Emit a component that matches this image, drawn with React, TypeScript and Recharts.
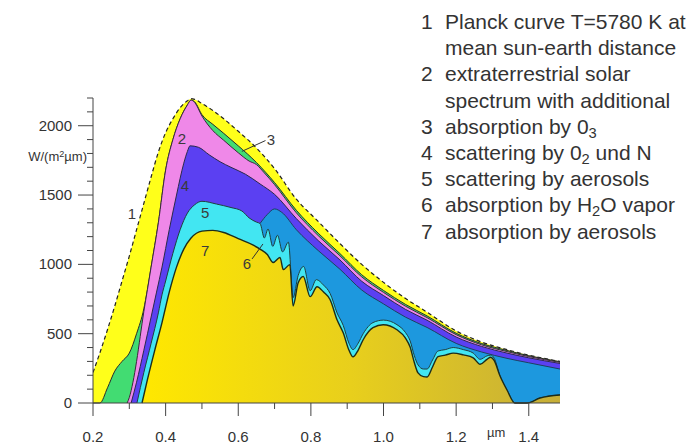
import { ComposedChart, Area, XAxis, YAxis, ReferenceDot, ReferenceLine } from 'recharts';

type Pt = [number, number]; // [wavelength in µm, W/(m²µm)]

// 1: Planck curve, T = 5780 K
const planck: Pt[] = [
  [0.2, 220], [0.22, 370], [0.24, 530], [0.26, 700], [0.28, 880], [0.3, 1060], [0.32, 1250],
  [0.34, 1440], [0.36, 1630], [0.38, 1810], [0.4, 1950], [0.42, 2050], [0.44, 2130], [0.46, 2180],
  [0.47, 2195], [0.48, 2190], [0.5, 2160], [0.53, 2110], [0.56, 2050], [0.6, 1960], [0.65, 1840],
  [0.7, 1690], [0.76, 1470], [0.82, 1310], [0.88, 1150], [0.94, 1000], [1.0, 870], [1.06, 755],
  [1.12, 655], [1.2, 520], [1.27, 440], [1.34, 385], [1.4, 345], [1.486, 300],
];

// top of the O3 band (extraterrestrial spectrum)
const extraterrestrial: Pt[] = [
  [0.2, 0], [0.219, 0], [0.24, 110], [0.26, 230], [0.28, 300], [0.3, 360], [0.32, 500], [0.34, 680],
  [0.35, 820], [0.36, 980], [0.38, 1300], [0.4, 1680], [0.42, 1900], [0.44, 2050], [0.46, 2150],
  [0.47, 2185], [0.48, 2172], [0.5, 2080], [0.53, 2010], [0.56, 1945], [0.6, 1855], [0.65, 1735],
  [0.7, 1590], [0.76, 1390], [0.82, 1225], [0.88, 1078], [0.94, 925], [1.0, 812], [1.06, 712],
  [1.12, 628], [1.2, 503], [1.27, 429], [1.34, 379], [1.4, 341], [1.486, 298],
];

// after ozone absorption
const afterOzone: Pt[] = [
  [0.294, 0], [0.3, 40], [0.31, 150], [0.32, 300], [0.33, 480], [0.34, 660], [0.35, 820], [0.36, 980],
  [0.38, 1300], [0.4, 1680], [0.42, 1900], [0.44, 2050], [0.46, 2150], [0.47, 2185], [0.48, 2168],
  [0.5, 2070], [0.53, 1965], [0.56, 1895], [0.6, 1805], [0.63, 1745], [0.65, 1720], [0.67, 1665],
  [0.7, 1575], [0.76, 1372], [0.82, 1208], [0.88, 1062], [0.94, 910], [1.0, 798], [1.06, 699],
  [1.12, 616], [1.2, 493], [1.27, 420], [1.34, 371], [1.4, 335], [1.486, 293],
];

// after Rayleigh scattering by O2 and N
const afterRayleigh: Pt[] = [
  [0.305, 0], [0.32, 150], [0.34, 380], [0.36, 620], [0.375, 800], [0.39, 980], [0.41, 1250],
  [0.43, 1500], [0.45, 1730], [0.46, 1815], [0.467, 1855], [0.49, 1845], [0.52, 1790], [0.55, 1740],
  [0.58, 1700], [0.62, 1650], [0.66, 1580], [0.7, 1505], [0.76, 1330], [0.82, 1172], [0.88, 1032],
  [0.94, 878], [1.0, 775], [1.06, 676], [1.12, 597], [1.2, 476], [1.27, 408], [1.34, 360],
  [1.4, 326], [1.486, 285],
];

// top of the water vapour band
const waterVapour: Pt[] = [
  [0.66, 1295], [0.68, 1360], [0.7, 1400], [0.72, 1375], [0.76, 1250], [0.82, 1100], [0.88, 965],
  [0.94, 815], [1.0, 715], [1.06, 620], [1.12, 545], [1.2, 430], [1.27, 368], [1.34, 322],
  [1.4, 290], [1.486, 245],
];

// after aerosol scattering
const aerosolScatter: Pt[] = [
  [0.321, 0], [0.34, 220], [0.36, 430], [0.38, 650], [0.39, 780], [0.4, 880], [0.42, 1080],
  [0.44, 1250], [0.46, 1370], [0.48, 1430], [0.5, 1455], [0.54, 1435], [0.58, 1410], [0.61, 1385],
  [0.63, 1335], [0.65, 1305], [0.66, 1295], [0.672, 1190], [0.682, 1255], [0.695, 1130],
  [0.708, 1210], [0.722, 1090], [0.738, 1160], [0.751, 760], [0.765, 920], [0.78, 985], [0.798, 810],
  [0.815, 890], [0.835, 850], [0.853, 790], [0.872, 650], [0.889, 560], [0.905, 430], [0.916, 385],
  [0.93, 430], [0.944, 500], [0.971, 580], [1.0, 598], [1.037, 565], [1.06, 510], [1.073, 450],
  [1.085, 340], [1.095, 275], [1.11, 245], [1.12, 245], [1.135, 310], [1.15, 375], [1.17, 385],
  [1.192, 400], [1.22, 385], [1.247, 360], [1.266, 315], [1.285, 340], [1.295, 345], [1.305, 322],
  [1.32, 200], [1.34, 94], [1.362, 0], [1.395, 0], [1.431, 36], [1.486, 58],
];

// ground level, after aerosol absorption
const ground: Pt[] = [
  [0.335, 0], [0.35, 170], [0.37, 380], [0.39, 580], [0.41, 800], [0.43, 980], [0.45, 1110],
  [0.47, 1190], [0.5, 1240], [0.53, 1245], [0.56, 1230], [0.6, 1185], [0.64, 1140], [0.66, 1110],
  [0.68, 1071], [0.696, 1013], [0.715, 1049], [0.724, 962], [0.742, 998], [0.751, 700], [0.765, 868],
  [0.779, 912], [0.798, 767], [0.817, 839], [0.835, 800], [0.853, 745], [0.872, 600], [0.889, 506],
  [0.905, 380], [0.916, 333], [0.93, 380], [0.944, 456], [0.971, 543], [0.999, 564], [1.037, 528],
  [1.06, 470], [1.073, 405], [1.085, 290], [1.095, 217], [1.11, 190], [1.12, 188], [1.135, 260],
  [1.15, 335], [1.17, 345], [1.192, 360], [1.22, 347], [1.247, 326], [1.266, 280], [1.285, 315],
  [1.295, 330], [1.305, 305], [1.32, 200], [1.34, 94], [1.362, 0], [1.395, 0], [1.431, 36], [1.486, 58],
];

const xTicks = [0.2, 0.3, 0.4, 0.5, 0.6, 0.7, 0.8, 0.9, 1.0, 1.1, 1.2, 1.3, 1.4];
const yTicks = [0, 100, 200, 300, 400, 500, 600, 700, 800, 900, 1000, 1100, 1200, 1300, 1400, 1500,
  1600, 1700, 1800, 1900, 2000, 2100, 2200];

const curveLabels = [
  { n: '1', um: 0.307, w: 1360 },
  { n: '2', um: 0.445, w: 1907 },
  { n: '3', um: 0.69, w: 1900 },
  { n: '4', um: 0.453, w: 1563 },
  { n: '5', um: 0.509, w: 1369 },
  { n: '6', um: 0.624, w: 1004 },
  { n: '7', um: 0.509, w: 1097 },
];

const subStyle = { fontSize: '0.7em', lineHeight: 0, verticalAlign: '-0.3em' };

const legendItems: [string, React.ReactNode][] = [
  ['1', 'Planck curve T=5780 K at'],
  ['', 'mean sun-earth distance'],
  ['2', 'extraterrestrial solar'],
  ['', 'spectrum with additional'],
  ['3', <>absorption by 0<span style={subStyle}>3</span></>],
  ['4', <>scattering by 0<span style={subStyle}>2</span> und N</>],
  ['5', 'scattering by aerosols'],
  ['6', <>absorption by H<span style={subStyle}>2</span>O vapor</>],
  ['7', 'absorption by aerosols'],
];

const layers = [
  { id: 'planck', pts: planck, fill: '#ffff1a', stroke: '#222', dash: '4 3', width: 1.2 },
  { id: 'ext', pts: extraterrestrial, fill: '#42dc72', stroke: '#2a2a2a', dash: undefined, width: 1 },
  { id: 'o3', pts: afterOzone, fill: '#ef88e8', stroke: '#3a2a3a', dash: undefined, width: 1 },
  { id: 'ray', pts: afterRayleigh, fill: '#5b40f2', stroke: '#2a2a4a', dash: undefined, width: 1 },
  { id: 'h2o', pts: waterVapour, fill: '#1d98de', stroke: '#1d4060', dash: undefined, width: 1 },
  { id: 'aer', pts: aerosolScatter, fill: '#42e6f2', stroke: '#1f3f3f', dash: undefined, width: 1 },
  { id: 'ground', pts: ground, fill: 'url(#goldFill)', stroke: '#1c2c1c', dash: undefined, width: 1.4 },
];

// plot frame
const PLOT_LEFT = 93;
const PLOT_BOTTOM = 403;

const toRows = (pts: Pt[]) => pts.map(([um, w]) => ({ um, w }));

const XTick = ({ x, payload }: any) => {
  const major = Math.round(payload.value * 10) % 2 === 0;
  const y = PLOT_BOTTOM;
  return (
    <g>
      <line x1={x} x2={x} y1={y} y2={y + (major ? 13 : 6)} stroke="#444" />
      {major && (
        <text x={x} y={y + 39} textAnchor="middle" fontSize={15} fill="#333">
          {payload.value.toFixed(1)}
        </text>
      )}
    </g>
  );
};

const YTick = ({ y, payload }: any) => {
  const major = payload.value % 500 === 0;
  const x = PLOT_LEFT;
  return (
    <g>
      <line x1={x - (major ? 15 : 6)} x2={x} y1={y} y2={y} stroke="#444" />
      {major && (
        <text x={x - 21} y={y + 5} textAnchor="end" fontSize={15} fill="#333">
          {payload.value}
        </text>
      )}
    </g>
  );
};

const LabelText = (text: string) => (props: any) => (
  <text x={props.cx} y={props.cy + 5} textAnchor="middle" fontSize={15} fill="#3a3a3a">
    {text}
  </text>
);

export default function App() {
  return (
    <div
      style={{
        position: 'absolute',
        left: 0,
        top: 0,
        width: 697,
        height: 448,
        background: '#fff',
        fontFamily: '"Liberation Sans", Arial, sans-serif',
        overflow: 'hidden',
      }}
    >
      <ComposedChart width={697} height={448} margin={{ top: 98, right: 137, bottom: 15, left: 33 }}>
        <defs>
          <linearGradient id="goldFill" x1="0" y1="0" x2="1" y2="0">
            <stop offset="0%" stopColor="#ffe800" />
            <stop offset="50%" stopColor="#e8cf1c" />
            <stop offset="100%" stopColor="#c6ae38" />
          </linearGradient>
        </defs>
        <XAxis
          type="number"
          dataKey="um"
          domain={[0.2, 1.486]}
          ticks={xTicks}
          allowDataOverflow
          height={30}
          tick={<XTick />}
          axisLine={{ stroke: '#444' }}
          tickLine={false}
          interval={0}
        />
        <YAxis
          type="number"
          domain={[0, 2200]}
          ticks={yTicks}
          width={60}
          tick={<YTick />}
          axisLine={{ stroke: '#444' }}
          tickLine={false}
          interval={0}
        />
        {layers.map((l) => (
          <Area
            key={l.id}
            data={toRows(l.pts)}
            dataKey="w"
            type="monotone"
            baseValue={0}
            fill={l.fill}
            fillOpacity={1}
            stroke={l.stroke}
            strokeWidth={l.width}
            strokeDasharray={l.dash}
            dot={false}
            activeDot={false}
            isAnimationActive={false}
          />
        ))}
        <ReferenceLine segment={[{ x: 0.61, y: 1815 }, { x: 0.675, y: 1893 }]} stroke="#333" />
        <ReferenceLine segment={[{ x: 0.638, y: 1039 }, { x: 0.668, y: 1147 }]} stroke="#333" />
        {curveLabels.map((c) => (
          <ReferenceDot key={c.n} x={c.um} y={c.w} r={0} shape={LabelText(c.n)} />
        ))}
      </ComposedChart>

      <div style={{ position: 'absolute', right: 610, top: 149, fontSize: 13, color: '#333', whiteSpace: 'nowrap' }}>
        W/(m<span style={{ fontSize: '0.7em', lineHeight: 0, verticalAlign: '0.45em' }}>2</span>µm)
      </div>
      <div style={{ position: 'absolute', left: 487, top: 425, fontSize: 13, color: '#333' }}>µm</div>

      <div style={{ position: 'absolute', left: 421, top: 9, fontSize: 21, lineHeight: '26.2px', color: '#333' }}>
        {legendItems.map(([n, t], i) => (
          <div key={i} style={{ display: 'flex', whiteSpace: 'nowrap', height: 26.2 }}>
            <span style={{ width: 24 }}>{n}</span>
            <span>{t}</span>
          </div>
        ))}
      </div>
    </div>
  );
}
